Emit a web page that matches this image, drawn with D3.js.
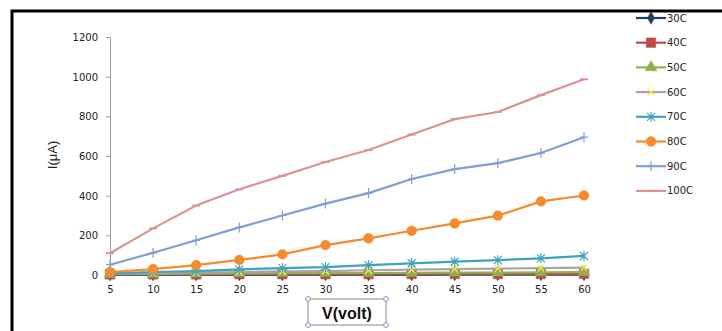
<!DOCTYPE html>
<html><head><meta charset="utf-8">
<script src="https://cdn.jsdelivr.net/npm/d3@7"></script>
<style>body{margin:0;background:#fff;}svg{display:block;font-family:"DejaVu Sans",Verdana,sans-serif;}</style>
</head><body>
<svg id="c" width="722" height="331"></svg>
<script>
const volts = [5,10,15,20,25,30,35,40,45,50,55,60];
const s30C  = [2,2,2,2,2,2,2,2,3,3,3,3];
const s40C  = [3,3,3,4,4,4,4,5,5,5,5,6];
const s50C  = [5,6,7,8,9,10,10,11,12,12,13,14];
const s60C  = [8,10,12,15,18,20,24,27,30,32,35,37];
const s70C  = [8,15,20,28,35,40,50,59,67,75,84,96];
const s80C  = [15,30,50,76,104,151,185,223,260,299,371,401];
const s90C  = [52,112,175,240,300,360,413,484,534,564,615,695];
const s100C = [110,235,350,432,500,570,630,708,786,822,907,987];
const seriesNames = ["30C","40C","50C","60C","70C","80C","90C","100C"];
const yTicks = [0,200,400,600,800,1000,1200];

const seriesData = [s30C,s40C,s50C,s60C,s70C,s80C,s90C,s100C];
const colors = ["#1F3E63","#BE4B48","#8FB04E","#A6A6A6","#3FA3BE","#F58A2E","#7F9FD3","#D99594"];
const markerFill = ["#1F3E63","#BE4B48","#8FB04E","#F3E94A","#3FA3BE","#F58A2E","#7F9FD3","#D99594"];
const shapes = ["diamond","square","triangle","x","star","circle","plus","dash"];
const FONT = "DejaVu Sans, Verdana, sans-serif";

const svg = d3.select("#c");
svg.append("path").attr("d","M12,331 L12,11 L722,11").attr("fill","none").attr("stroke","#000").attr("stroke-width",3);

const x = d3.scalePoint().domain(volts).range([110,584]);
const y = d3.scaleLinear().domain([0,1200]).range([275,37]);

const ya = svg.append("g").attr("transform","translate(110,0)")
  .call(d3.axisLeft(y).tickValues(yTicks).tickFormat(d3.format("d")).tickSize(4).tickPadding(8));
ya.attr("font-family",FONT);
ya.select(".domain").attr("stroke","#9a9a9a");
ya.selectAll(".tick line").attr("stroke","#9a9a9a");
ya.selectAll("text").attr("font-size",10).attr("fill","#222").attr("dy","0.35em");

const xa = svg.append("g").attr("transform","translate(0,275)")
  .call(d3.axisBottom(x).tickSize(0).tickPadding(11));
xa.attr("font-family",FONT);
xa.select(".domain").attr("stroke","#9a9a9a");
xa.selectAll("text").attr("font-size",10).attr("fill","#222");

function marker(g, shape, c, fc){
  const sym = {diamond:d3.symbolDiamond,square:d3.symbolSquare,triangle:d3.symbolTriangle,circle:d3.symbolCircle};
  if(sym[shape]){
    const size = shape==="square"?90:shape==="circle"?75:shape==="triangle"?60:45;
    g.append("path").attr("d",d3.symbol().type(sym[shape]).size(size)()).attr("fill",fc).attr("stroke",c).attr("stroke-width",0.5);
  } else if(shape==="x"){
    g.append("path").attr("d","M-3.5,-3.5L3.5,3.5M-3.5,3.5L3.5,-3.5").attr("stroke",fc).attr("stroke-width",1.3);
  } else if(shape==="star"){
    g.append("path").attr("d","M-4,-4L4,4M-4,4L4,-4M0,-5L0,5").attr("stroke",c).attr("stroke-width",1.2);
  } else if(shape==="plus"){
    g.append("path").attr("d","M-4,0L4,0M0,-5L0,5").attr("stroke",c).attr("stroke-width",1.2);
  } else if(shape==="dash"){
    g.append("path").attr("d","M-4,0L4,0").attr("stroke",c).attr("stroke-width",2);
  }
}

const line = d3.line().x((d,i)=>x(volts[i])).y(d=>y(d));
const plot = svg.append("g");
seriesData.forEach((s,k)=>{
  plot.append("path").datum(s).attr("d",line).attr("fill","none").attr("stroke",colors[k]).attr("stroke-width",2.2);
  s.forEach((v,i)=>{
    const g = plot.append("g").attr("transform",`translate(${x(volts[i])},${y(v)})`);
    marker(g,shapes[k],colors[k],markerFill[k]);
  });
});

const lg = svg.append("g");
seriesNames.forEach((n,k)=>{
  const yy = 18 + k*24.7;
  lg.append("line").attr("x1",636).attr("x2",666).attr("y1",yy).attr("y2",yy).attr("stroke",colors[k]).attr("stroke-width",2.2);
  const g = lg.append("g").attr("transform",`translate(651,${yy})`);
  marker(g,shapes[k],colors[k],markerFill[k]);
  lg.append("text").attr("x",667).attr("y",yy).attr("dy","0.35em").attr("font-size",10).attr("font-family",FONT).attr("fill","#222").text(n);
});

svg.append("text").attr("transform","translate(57,155) rotate(-90)").attr("text-anchor","middle")
  .attr("font-size",13).attr("font-family","Liberation Sans, Arial, sans-serif").attr("fill","#222").text("I(μA)");

const bx = svg.append("g");
bx.append("rect").attr("x",308).attr("y",299).attr("width",78).attr("height",26).attr("fill","#fff").attr("stroke","#8a8a8a").attr("stroke-width",1);
[[308,299],[386,299],[308,325],[386,325]].forEach(p=>{
  bx.append("circle").attr("cx",p[0]).attr("cy",p[1]).attr("r",2.5).attr("fill","#e8eef7").attr("stroke","#7b93b8").attr("stroke-width",0.8);
});
bx.append("text").attr("x",347).attr("y",313).attr("dy","0.35em").attr("text-anchor","middle")
  .attr("font-size",16).attr("font-weight","bold").attr("font-family","Liberation Sans, Arial, sans-serif").attr("fill","#111").text("V(volt)");
</script>
</body></html>
